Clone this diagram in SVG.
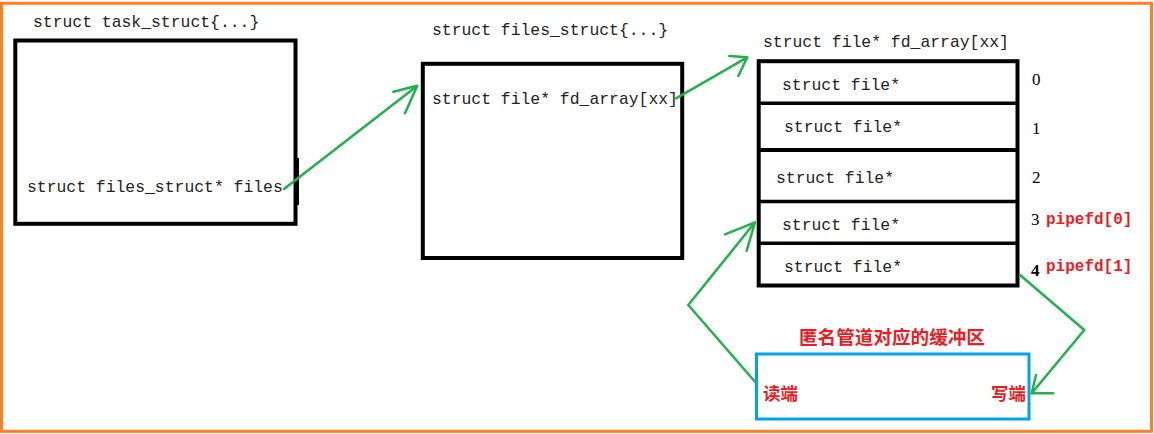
<svg xmlns="http://www.w3.org/2000/svg" width="1154" height="434" viewBox="0 0 1154 434">
<style>
.code{font-family:"Liberation Mono","DejaVu Sans Mono",monospace;font-size:16.4px;fill:#222;}
.idx{font-family:"Liberation Serif","DejaVu Serif",serif;font-size:17px;fill:#000;}
.red{font-family:"Liberation Mono","DejaVu Sans Mono",monospace;font-size:16px;font-weight:bold;fill:#ed1c24;}
.cjk{font-family:"Liberation Sans","Noto Sans CJK SC",sans-serif;font-size:17.5px;font-weight:bold;fill:#ed1c24;}
.title{font-size:18.6px;}
.box{fill:none;stroke:#000;stroke-width:4;}
.conn{fill:none;stroke:#22b14c;stroke-width:2.5;stroke-linecap:round;stroke-linejoin:round;}
</style>
<rect width="1154" height="434" fill="#fff"/>
<rect x="1.5" y="3.3" width="1150" height="428" fill="none" stroke="#ff7f27" stroke-width="3"/>

<g id="task_struct">
<text class="code" x="33" y="27">struct task_struct{...}</text>
<rect class="box" x="15.3" y="40.5" width="280.2" height="183.3"/>
<line x1="298" y1="158" x2="298" y2="205" stroke="#000" stroke-width="2"/>
<text class="code" x="27" y="192">struct files_struct* files</text>
</g>

<g id="files_struct">
<text class="code" x="432" y="35">struct files_struct{...}</text>
<rect class="box" x="422.8" y="63.8" width="259.4" height="194.2"/>
<text class="code" x="432" y="104">struct file* fd_array[xx]</text>
</g>

<g id="fd_array">
<text class="code" x="763" y="47">struct file* fd_array[xx]</text>
<rect class="box" x="758.7" y="61.2" width="258.8" height="224.3"/>
<line x1="758.7" y1="103.3" x2="1017.5" y2="103.3" stroke="#000" stroke-width="3.5"/>
<line x1="758.7" y1="150" x2="1017.5" y2="150" stroke="#000" stroke-width="4"/>
<line x1="758.7" y1="201.5" x2="1017.5" y2="201.5" stroke="#000" stroke-width="3.5"/>
<line x1="758.7" y1="243.3" x2="1017.5" y2="243.3" stroke="#000" stroke-width="3.5"/>
<text class="code" x="782" y="90">struct file*</text>
<text class="code" x="784" y="132">struct file*</text>
<text class="code" x="776" y="183">struct file*</text>
<text class="code" x="782" y="230">struct file*</text>
<text class="code" x="784" y="272">struct file*</text>
<text class="idx" x="1032" y="85">0</text>
<text class="idx" x="1032" y="134">1</text>
<text class="idx" x="1032" y="183">2</text>
<text class="idx" x="1031" y="225">3</text>
<text class="idx" x="1031" y="276" font-weight="bold">4</text>
<text class="red" x="1046" y="224">pipefd[0]</text>
<text class="red" x="1046" y="271">pipefd[1]</text>
</g>

<g id="pipe_buffer">
<text class="cjk title" x="799" y="344">匿名管道对应的缓冲区</text>
<rect x="756.5" y="354" width="272.5" height="65" fill="none" stroke="#00a2e8" stroke-width="3"/>
<text class="cjk" x="763" y="400">读端</text>
<text class="cjk" x="991" y="400">写端</text>
</g>

<g id="connectors">
<path class="conn" d="M284 189 L417.3 85.7 M393.3 91.7 L417.3 85.7 L405 113.3"/>
<path class="conn" d="M676 98.3 L747.3 57.3 M729.3 56 L747.3 57.3 L738.3 76"/>
<path class="conn" d="M755 381.7 L688.3 305 L755 222.3 M725 234.3 L755 222.3 L746.7 250.7"/>
<path class="conn" d="M1020 275 L1084.3 330 L1031.7 393.3 M1036 375 L1031.7 393.3 L1053.3 393.3"/>
</g>
</svg>
